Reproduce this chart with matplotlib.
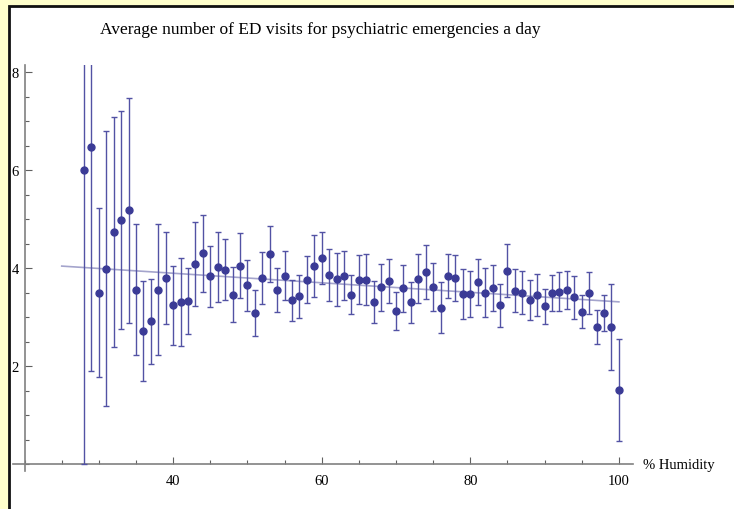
import numpy as np
import matplotlib
matplotlib.use("Agg")
import matplotlib.pyplot as plt
from matplotlib.patches import Rectangle
from matplotlib.ticker import MultipleLocator

# % humidity (one point per integer value)
humidity = list(range(28, 101))

# mean number of ED visits per day
visits = [6.00, 6.47, 3.50, 3.99, 4.73, 4.98, 5.18, 3.56, 2.71, 2.91,
          3.56, 3.80, 3.24, 3.30, 3.33, 4.08, 4.30, 3.83, 4.02, 3.97,
          3.46, 4.05, 3.65, 3.08, 3.79, 4.29, 3.55, 3.84, 3.34, 3.42,
          3.76, 4.04, 4.20, 3.86, 3.77, 3.84, 3.46, 3.76, 3.76, 3.30,
          3.61, 3.74, 3.13, 3.59, 3.30, 3.78, 3.92, 3.61, 3.19, 3.83,
          3.79, 3.47, 3.48, 3.71, 3.50, 3.59, 3.24, 3.95, 3.54, 3.50,
          3.35, 3.45, 3.22, 3.49, 3.52, 3.56, 3.40, 3.11, 3.49, 2.80,
          3.08, 2.80, 1.51]

# half-width of the error bars
errors = [6.00, 4.57, 1.73, 2.80, 2.35, 2.22, 2.30, 1.34, 1.02, 0.87,
          1.34, 0.94, 0.81, 0.90, 0.67, 0.85, 0.79, 0.63, 0.72, 0.62,
          0.57, 0.66, 0.52, 0.47, 0.53, 0.57, 0.45, 0.50, 0.42, 0.44,
          0.48, 0.63, 0.53, 0.53, 0.54, 0.50, 0.40, 0.50, 0.52, 0.43,
          0.48, 0.45, 0.39, 0.48, 0.42, 0.50, 0.55, 0.49, 0.52, 0.45,
          0.47, 0.51, 0.47, 0.47, 0.50, 0.47, 0.44, 0.55, 0.44, 0.43,
          0.40, 0.43, 0.36, 0.37, 0.39, 0.39, 0.43, 0.33, 0.43, 0.35,
          0.37, 0.88, 1.04]

# linear trend
trend_x = [25, 100]
trend_y = [4.04, 3.31]

point_color = "#3b3b96"
serif = ["Liberation Serif", "DejaVu Serif"]

fig = plt.figure(figsize=(7.34, 5.10), dpi=100)
fig.patch.set_facecolor("#ffffcc")

# white panel with dark frame on top and left
fig.patches.append(Rectangle((9 / 734, -0.2), 1.2, 1.2 - 7 / 510,
                             transform=fig.transFigure, facecolor="white",
                             edgecolor="#111111", linewidth=2, zorder=-10))

ax = fig.add_axes([0.0173, 0.0737, 0.8451, 0.7975])
ax.set_facecolor("none")
ax.set_zorder(1)

ax.plot(trend_x, trend_y, color="#a4a4cc", lw=1.2, zorder=2)
ax.errorbar(humidity, visits, yerr=errors, fmt="o", color=point_color,
            ecolor="#5252a4", elinewidth=1, capsize=2.5, capthick=1,
            markersize=5, zorder=3)

ax.set_xlim(18.4, 101.9)
ax.set_ylim(-0.15, 8.15)

for side in ["top", "right"]:
    ax.spines[side].set_visible(False)
ax.spines["left"].set_position(("data", 20))
ax.spines["bottom"].set_position(("data", 0))
for side in ["left", "bottom"]:
    ax.spines[side].set_color("#808080")
    ax.spines[side].set_linewidth(1.2)

ax.set_xticks([40, 60, 80, 100])
ax.xaxis.set_minor_locator(MultipleLocator(5))
ax.set_yticks([2, 4, 6, 8])
ax.yaxis.set_minor_locator(MultipleLocator(0.5))
ax.tick_params(which="both", direction="in", color="#606060", width=0.8)
ax.tick_params(which="major", length=5)
ax.tick_params(which="minor", length=3)
ax.tick_params(axis="x", pad=7)
ax.tick_params(axis="y", pad=4)
for lab in ax.get_xticklabels() + ax.get_yticklabels():
    lab.set_family(serif)
    lab.set_fontsize(10.5)

ax.text(103.2, 0, "% Humidity", family=serif, fontsize=10.5,
        ha="left", va="center", clip_on=False)

fig.text(0.437, 0.941, "Average number of ED visits for psychiatric emergencies a day",
         family=serif, fontsize=12.5, ha="center", va="center")

fig.savefig("out.png", dpi=100, facecolor=fig.get_facecolor())
